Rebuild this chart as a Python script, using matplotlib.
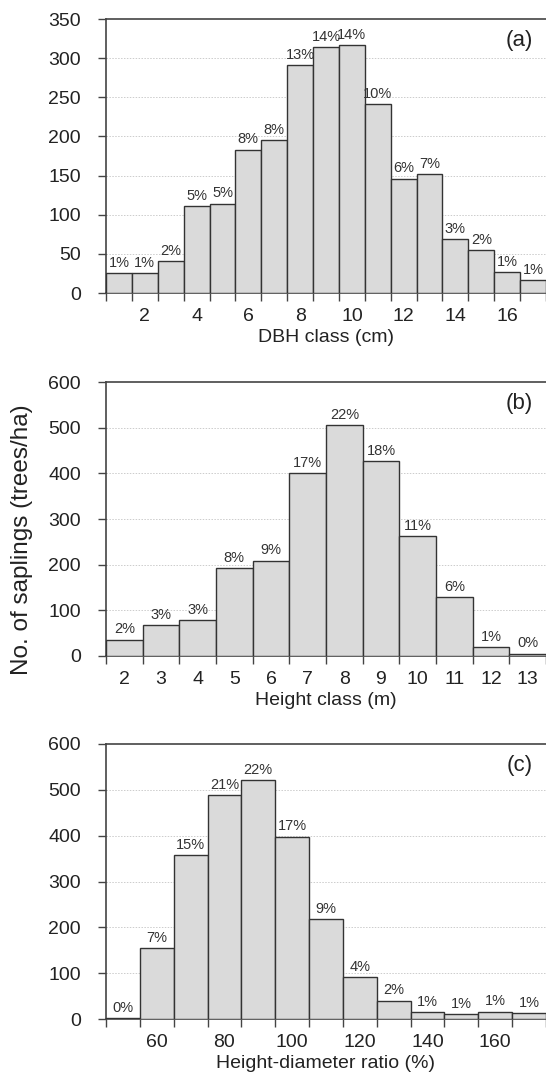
import matplotlib
matplotlib.use("Agg")
import matplotlib.pyplot as plt
import numpy as np

plt.rcParams['font.family'] = ['Liberation Sans', 'DejaVu Sans']

# Panel (a): DBH class (cm)
dbh_class = list(range(1, 18))
dbh_values = [25, 25, 41, 111, 114, 183, 195, 291, 314, 317, 241, 146, 152, 69, 55, 27, 16]
dbh_pct = ["1%", "1%", "2%", "5%", "5%", "8%", "8%", "13%", "14%", "14%", "10%", "6%", "7%", "3%", "2%", "1%", "1%"]
dbh_ticklabels = [2, 4, 6, 8, 10, 12, 14, 16]

# Panel (b): Height class (m)
height_class = list(range(2, 14))
height_values = [36, 67, 79, 192, 209, 400, 506, 427, 263, 129, 19, 5]
height_pct = ["2%", "3%", "3%", "8%", "9%", "17%", "22%", "18%", "11%", "6%", "1%", "0%"]

# Panel (c): Height-diameter ratio (%)
hd_class = list(range(50, 180, 10))
hd_values = [2, 155, 358, 488, 521, 398, 218, 92, 40, 15, 10, 16, 13]
hd_pct = ["0%", "7%", "15%", "21%", "22%", "17%", "9%", "4%", "2%", "1%", "1%", "1%", "1%"]
hd_ticklabels = [60, 80, 100, 120, 140, 160]

W, H = 546, 1079
fig = plt.figure(figsize=(W / 100, H / 100), dpi=100)

left = 106 / W
width = 1.0 - left
panels = [
    dict(top=19, bot=293, x=dbh_class, y=dbh_values, pct=dbh_pct, w=1,
         ymax=350, ystep=50, xt=dbh_ticklabels, xlabel="DBH class (cm)", tag="(a)"),
    dict(top=382, bot=656, x=height_class, y=height_values, pct=height_pct, w=1,
         ymax=600, ystep=100, xt=height_class, xlabel="Height class (m)", tag="(b)"),
    dict(top=744, bot=1019, x=hd_class, y=hd_values, pct=hd_pct, w=10,
         ymax=600, ystep=100, xt=hd_ticklabels, xlabel="Height-diameter ratio (%)", tag="(c)"),
]

spine_col = "#444444"
text_col = "#222222"

for p in panels:
    ax = fig.add_axes([left, 1 - p['bot'] / H, width, (p['bot'] - p['top']) / H])
    x = np.array(p['x'], dtype=float)
    w = p['w']
    ax.bar(x, p['y'], width=w, color="#dadada", edgecolor="#333333", linewidth=1.0, zorder=3)
    for xi, yi, s in zip(x, p['y'], p['pct']):
        ax.text(xi, yi + p['ymax'] * 0.012, s, ha='center', va='bottom', fontsize=10.5,
                color="#333333", zorder=4)
    ax.set_xlim(x[0] - w / 2, x[-1] + w / 2)
    ax.set_ylim(0, p['ymax'])
    yt = np.arange(0, p['ymax'] + 1, p['ystep'])
    ax.set_yticks(yt)
    for g in yt[1:-1]:
        ax.axhline(g, color="#cccccc", linestyle=(0, (1.5, 1.5)), linewidth=0.7, zorder=1)
    # tick marks at bar edges, labels at bar centers
    edges = np.concatenate([x - w / 2, [x[-1] + w / 2]])
    ax.set_xticks(edges, minor=True)
    ax.set_xticks(p['xt'])
    ax.set_xticklabels([str(v) for v in p['xt']])
    ax.tick_params(axis='x', which='major', length=0, pad=11, labelsize=14, labelcolor=text_col)
    ax.tick_params(axis='x', which='minor', length=6, width=1, color=spine_col, direction='out')
    ax.tick_params(axis='y', which='major', length=6, width=1, color=spine_col, direction='out',
                   pad=12, labelsize=14, labelcolor=text_col)
    for s in ['left', 'bottom', 'top']:
        ax.spines[s].set_color(spine_col)
        ax.spines[s].set_linewidth(1.2)
    ax.spines['right'].set_visible(False)
    ax.set_xlabel(p['xlabel'], fontsize=14, color=text_col, labelpad=3)
    ax.text(0.970, 0.92, p['tag'], transform=ax.transAxes, ha='right', va='center',
            fontsize=16, color=text_col)

fig.text(22 / W, 1 - 540 / H, "No. of saplings (trees/ha)", rotation=90, ha='center', va='center',
         fontsize=17.5, color=text_col)

fig.savefig("out.png", dpi=100)
